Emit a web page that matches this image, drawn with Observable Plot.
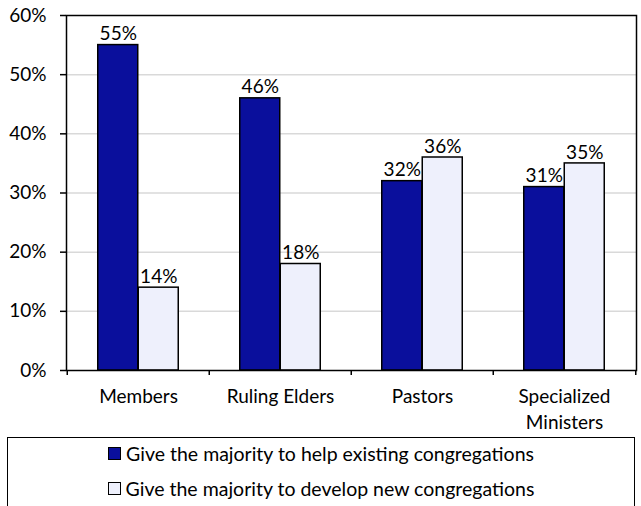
<!DOCTYPE html>
<html>
<head>
<meta charset="utf-8">
<script src="https://cdn.jsdelivr.net/npm/d3@7"></script>
<script src="https://cdn.jsdelivr.net/npm/@observablehq/plot@0.6"></script>
<style>
  html, body { margin: 0; padding: 0; background: #fff; }
  body { width: 641px; height: 506px; overflow: hidden; font-family: Lato, "Open Sans", sans-serif; }
  #chart svg { display: block; }
  .legend {
    position: absolute; left: 7px; top: 437px; width: 628px; height: 80px;
    border: 1.5px solid #000; box-sizing: border-box; font-size: 19.5px; color: #000;
  }
  .legend .row { position: absolute; left: 0; width: 100%; display: flex; justify-content: center; align-items: center; }
  .legend .sw { width: 11px; height: 11px; border: 1.5px solid #000; margin-right: 5px; }
</style>
</head>
<body>
<div id="chart"></div>
<div class="legend" id="legend"></div>
<script>
const categories = ["Members", "Ruling Elders", "Pastors", "Specialized Ministers"];
const seriesNames = [
  "Give the majority to help existing congregations",
  "Give the majority to develop new congregations"
];
const existingValues = [55, 46, 32, 31];
const newValues = [14, 18, 36, 35];
const yTicks = [0, 10, 20, 30, 40, 50, 60];
const colors = ["#0A0F9C", "#EEF0FC"];

const W = 641, H = 437;
const mL = 66, mR = 5, mT = 15, mB = 67;
const step = (W - mL - mR) / categories.length;
const barW = 40.5;

const existing = categories.map((c, i) => ({category: c, value: existingValues[i]}));
const fresh = categories.map((c, i) => ({category: c, value: newValues[i]}));

const font = "Lato, 'Open Sans', sans-serif";
const fs = 19;

const chart = Plot.plot({
  width: W, height: H,
  marginLeft: mL, marginRight: mR, marginTop: mT, marginBottom: mB,
  style: {fontFamily: font, fontSize: fs + "px", color: "#000", background: "#fff"},
  x: {domain: categories, padding: 0, axis: null},
  y: {domain: [0, 60], axis: null},
  marks: [
    Plot.gridY(yTicks.slice(1, -1), {stroke: "#d9d9d9", strokeOpacity: 1, strokeWidth: 1.5}),
    Plot.barY(existing, {x: "category", y: "value", fill: colors[0], stroke: "#000", strokeWidth: 1.5,
      insetLeft: step / 2 - barW, insetRight: step / 2}),
    Plot.barY(fresh, {x: "category", y: "value", fill: colors[1], stroke: "#000", strokeWidth: 1.5,
      insetLeft: step / 2, insetRight: step / 2 - barW}),
    Plot.frame({stroke: "#000", strokeWidth: 1.5}),
    Plot.text(existing, {x: "category", y: "value", text: d => d.value + "%", dx: -barW / 2, dy: -11, fontSize: fs, fill: "#000"}),
    Plot.text(fresh, {x: "category", y: "value", text: d => d.value + "%", dx: barW / 2, dy: -11, fontSize: fs, fill: "#000"}),
    Plot.axisY(yTicks, {tickSize: 6, tickPadding: 14, strokeWidth: 1.5, tickFormat: d => d + "%", fontSize: fs, label: null}),
    Plot.axisX(categories, {tickSize: 5, strokeWidth: 1.5, tickFormat: null, text: null, dx: -step / 2, label: null}),
    Plot.axisX(categories.slice(-1), {tickSize: 5, strokeWidth: 1.5, tickFormat: null, text: null, dx: step / 2, label: null}),
    Plot.axisX(categories, {tickSize: 0, tickPadding: 14, fontSize: fs, lineHeight: 1.37, label: null,
      tickFormat: d => d.replace("Specialized ", "Specialized\n")})
  ]
});
document.getElementById("chart").appendChild(chart);

const legend = document.getElementById("legend");
seriesNames.forEach((name, i) => {
  const row = document.createElement("div");
  row.className = "row";
  row.style.top = (i === 0 ? 4 : 39) + "px";
  const sw = document.createElement("span");
  sw.className = "sw";
  sw.style.background = colors[i];
  const label = document.createElement("span");
  label.textContent = name;
  row.appendChild(sw);
  row.appendChild(label);
  legend.appendChild(row);
});
</script>
</body>
</html>
